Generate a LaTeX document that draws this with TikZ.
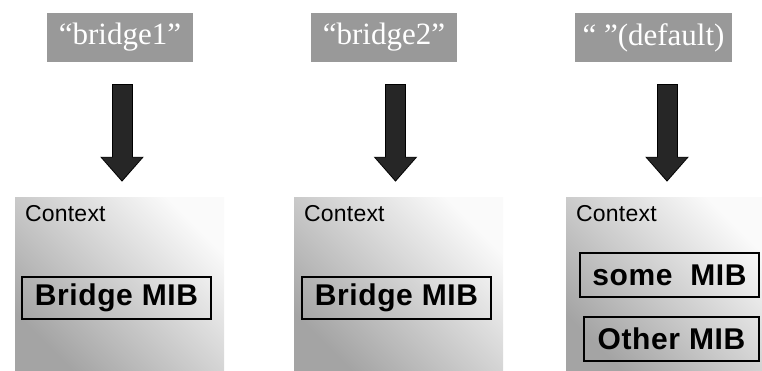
\documentclass[tikz,border=0pt]{standalone}
\usepackage{fontspec}
\setmainfont{Liberation Serif}
\setsansfont{Liberation Sans}
\usepackage{tikz}
\usetikzlibrary{arrows.meta, shadings}
\definecolor{labelgray}{HTML}{999999}
\definecolor{shadegray}{HTML}{A4A4A4}
\definecolor{shadelight}{HTML}{FAFAFA}
\definecolor{arrowdark}{HTML}{262626}

\pgfdeclareverticalshading{ctxshade}{100bp}{color(0bp)=(shadegray); color(25bp)=(shadegray);
  color(75bp)=(shadelight); color(100bp)=(shadelight)}

\tikzset{
  namelabel/.style={fill=labelgray, text=white, inner sep=0pt,
    minimum height=49pt, font=\fontsize{31}{31}\selectfont\rmfamily},
  contextbox/.style={shading=ctxshade, shading angle=-45, inner sep=0pt,
    minimum width=209pt, minimum height=173pt},
  contexttext/.style={anchor=base west, inner sep=0pt,
    font=\fontsize{23}{23}\selectfont\sffamily\addfontfeature{LetterSpace=1}},
  mibbox/.style={draw=black, line width=1.3pt, inner sep=0pt, minimum height=42pt,
    font=\fontsize{30}{30}\selectfont\sffamily\bfseries\addfontfeature{LetterSpace=2}},
  bigarrow/.style={draw=black, line width=21pt,
    -{Triangle[width=42pt, length=25pt]}, shorten <=22pt, shorten >=15pt}
}

\begin{document}
\begin{tikzpicture}[x=1pt, y=-1pt]
  \useasboundingbox (0,0) rectangle (762,370);

  % Names on top
  \node[namelabel, minimum width=146pt] (lbl1) at (120,37.5) {``bridge1''};
  \node[namelabel, minimum width=146pt] (lbl2) at (384,37.5) {``bridge2''};
  \node[namelabel, minimum width=157pt] (lbl3) at (653.5,37.5) {`` ''(default)};

  % Context boxes
  \node[contextbox] (ctx1) at (119.5,283.5) {};
  \node[contextbox] (ctx2) at (398.5,283.5) {};
  \node[contextbox, minimum width=196pt] (ctx3) at (664,283.5) {};

  \foreach \c in {ctx1, ctx2, ctx3} {
    \node[contexttext] (\c-title) at ([xshift=10pt, yshift=-25pt]\c.north west) {Context};
  }

  % MIBs
  \node[mibbox, minimum width=189pt] (mib1) at (116.5,298) {Bridge MIB};
  \node[mibbox, minimum width=189pt] (mib2) at (396.5,298) {Bridge MIB};
  \node[mibbox, minimum width=179pt, minimum height=44pt] (mib3a) at (669.5,275) {some\ \ MIB};
  \node[mibbox, minimum width=175pt, minimum height=44pt] (mib3b) at (671.5,339) {Other MIB};

  % Arrows
  \foreach \l/\c/\dx in {lbl1/ctx1/2.5, lbl2/ctx2/-3, lbl3/ctx3/3} {
    \draw[bigarrow, draw=black] ([xshift=\dx pt]\c.north |- \l.south) -- ([xshift=\dx pt]\c.north);
    \draw[bigarrow, draw=arrowdark, line width=19pt,
      -{Triangle[width=39pt, length=23pt]}, shorten <=23pt, shorten >=16.5pt]
      ([xshift=\dx pt]\c.north |- \l.south) -- ([xshift=\dx pt]\c.north);
  }
\end{tikzpicture}
\end{document}
